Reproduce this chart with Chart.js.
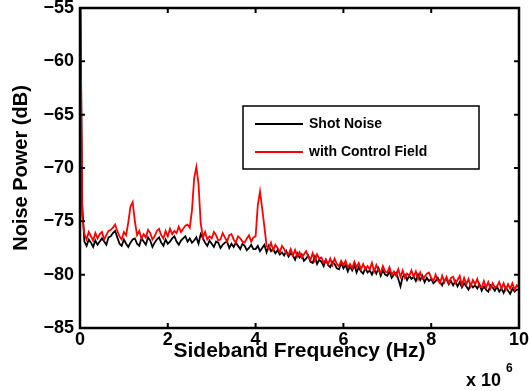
<!DOCTYPE html>
<html>
<head>
<meta charset="utf-8">
<script src="https://cdn.jsdelivr.net/npm/chart.js@4.4.0/dist/chart.umd.min.js"></script>
<style>
  html, body { margin: 0; padding: 0; background: #fff; }
  #wrap { width: 529px; height: 391px; }
</style>
</head>
<body>
<div id="wrap"><canvas id="chart"></canvas></div>
<script>
// sample grid: 0 .. 10 MHz every 50 kHz
const freq = [];
for (let i = 0; i <= 200; i++) freq.push(i * 50000);

// Shot Noise (dB)
const shotNoise = [
  -50, -73.5, -76.9, -77.3, -76.7, -77.0, -77.4, -76.8, -77.2, -76.9,
  -76.6, -76.9, -77.2, -76.5, -76.4, -76.1, -75.9, -76.5, -77.1, -77.3,
  -76.7, -77.1, -77.4, -77.0, -76.7, -76.6, -77.1, -77.3, -76.6, -76.9,
  -77.2, -76.5, -76.8, -77.4, -77.0, -76.7, -76.5, -77.0, -77.3, -76.7,
  -77.1, -76.9, -76.6, -76.4, -76.9, -77.2, -76.8, -76.6, -76.4, -76.9,
  -76.6, -77.0, -76.8, -76.5, -77.1, -76.2, -76.6, -77.0, -77.3, -76.8,
  -77.1, -77.4, -76.9, -77.0, -77.5, -77.2, -77.0, -76.9, -77.5, -77.1,
  -77.4, -77.0, -77.3, -77.6, -77.1, -77.3, -77.7, -77.5, -77.2, -77.6,
  -77.6, -77.3, -77.8, -77.5, -77.2, -77.9, -77.3, -77.8, -77.6, -78.0,
  -77.7, -78.1, -77.9, -78.2, -77.8, -78.3, -78.0, -78.2, -78.6, -78.0,
  -78.4, -78.1, -78.7, -78.5, -78.2, -78.8, -78.9, -78.3, -79.0, -78.6,
  -78.8, -79.2, -78.6, -79.1, -79.3, -78.8, -79.0, -79.4, -79.5, -78.9,
  -79.4, -79.1, -79.7, -79.2, -79.6, -79.1, -79.8, -79.3, -79.7, -79.9,
  -79.4, -79.8, -79.6, -80.0, -79.5, -79.9, -79.4, -80.1, -79.6, -80.0,
  -80.1, -79.7, -80.3, -80.0, -79.8, -80.4, -81.1, -80.2, -80.0, -80.5,
  -80.1, -80.4, -80.2, -80.6, -80.0, -80.5, -80.1, -80.7, -80.3, -80.6,
  -80.4, -80.8, -80.6, -80.3, -80.7, -81.0, -80.5, -80.4, -80.9, -80.6,
  -81.0, -80.6, -81.1, -80.7, -81.2, -80.8, -81.1, -81.4, -80.9, -81.2,
  -81.0, -81.3, -80.9, -81.5, -81.1, -81.4, -81.6, -81.0, -81.2, -81.5,
  -81.1, -81.6, -81.3, -81.7, -81.2, -81.5, -81.8, -81.3, -81.6, -81.4,
  -81.4
];

// with Control Field (dB)
const controlField = [
  -50, -74.5, -76.2, -76.7, -76.0, -76.4, -76.8, -76.1, -76.6, -76.2,
  -76.0, -76.7, -76.3, -75.9, -75.8, -75.6, -75.3, -75.9, -76.4, -76.7,
  -76.0, -76.3, -75.1, -73.6, -73.2, -75.0, -76.3, -75.9, -76.6, -76.2,
  -76.5, -75.8, -76.1, -76.7, -76.4, -75.9, -75.7, -76.3, -76.6, -75.9,
  -76.4, -75.7, -76.2, -75.9, -76.1, -75.5, -76.0, -75.7, -75.4, -75.3,
  -75.6, -74.0, -71.0, -69.9, -71.5, -75.2, -76.5, -76.0, -76.7, -76.4,
  -76.6, -76.0, -76.3, -76.8, -76.7, -76.1, -76.5, -76.9, -76.3, -76.2,
  -76.7, -77.0, -76.4, -76.6, -76.9, -77.0, -76.6, -76.3, -76.9, -76.5,
  -76.4, -73.5, -72.2, -73.8, -75.5, -77.3, -77.6, -77.0, -77.7, -77.2,
  -77.5, -77.9, -77.3, -77.6, -78.0, -78.1, -77.6, -78.2, -77.7, -78.3,
  -77.9, -78.4, -78.1, -77.8, -78.3, -78.6, -78.0, -78.7, -78.1, -78.5,
  -78.4, -78.9, -78.6, -79.0, -78.5, -79.1, -78.5, -79.0, -79.2, -78.7,
  -79.1, -78.7, -79.3, -79.0, -79.4, -78.8, -79.3, -78.9, -79.5, -79.0,
  -79.5, -79.2, -79.5, -78.9, -79.7, -79.1, -79.6, -79.8, -79.2, -79.7,
  -79.8, -79.3, -80.0, -79.7, -80.1, -79.5, -80.2, -79.6, -80.3, -79.9,
  -80.1, -79.6, -80.2, -79.7, -80.4, -79.8, -80.4, -80.2, -79.9, -79.8,
  -80.3, -80.6, -80.0, -80.5, -80.8, -80.1, -80.7, -80.2, -80.8, -80.3,
  -80.2, -80.8, -80.5, -80.1, -81.0, -80.3, -80.9, -80.4, -81.1, -80.5,
  -80.9, -80.4, -81.1, -81.2, -80.6, -81.2, -80.7, -81.3, -80.8, -81.2,
  -81.1, -80.7, -81.3, -80.8, -81.4, -80.9, -81.3, -80.8, -81.4, -81.0,
  -81.2
];

const seriesNames = ['Shot Noise', 'with Control Field'];
const xTicks = [0, 2e6, 4e6, 6e6, 8e6, 10e6];
const yTicks = [-85, -80, -75, -70, -65, -60, -55];

const FONT = "'Liberation Sans', Arial, Helvetica, sans-serif";

const toPoints = (ys) => ys.map((y, i) => ({ x: freq[i], y: y }));

// frame, inward ticks, legend box and the x 10^6 note
const matlabAxes = {
  id: 'matlabAxes',
  afterDraw(chart) {
    const { ctx, chartArea: a, scales } = chart;
    ctx.save();
    ctx.strokeStyle = '#000';
    ctx.lineWidth = 2;
    const tl = 5;
    xTicks.forEach((v) => {
      const px = scales.x.getPixelForValue(v);
      ctx.beginPath();
      ctx.moveTo(px, a.bottom); ctx.lineTo(px, a.bottom - tl);
      ctx.moveTo(px, a.top); ctx.lineTo(px, a.top + tl);
      ctx.stroke();
    });
    yTicks.forEach((v) => {
      const py = scales.y.getPixelForValue(v);
      ctx.beginPath();
      ctx.moveTo(a.left, py); ctx.lineTo(a.left + tl, py);
      ctx.moveTo(a.right, py); ctx.lineTo(a.right - tl, py);
      ctx.stroke();
    });
    ctx.lineWidth = 2.5;
    ctx.strokeRect(a.left, a.top, a.right - a.left, a.bottom - a.top);

    // legend
    const lx = a.left + 163, ly = a.top + 98, lw = 236, lh = 63;
    ctx.fillStyle = '#fff';
    ctx.fillRect(lx, ly, lw, lh);
    ctx.lineWidth = 1.5;
    ctx.strokeRect(lx, ly, lw, lh);
    const ds = chart.data.datasets;
    ds.forEach((d, i) => {
      const yy = ly + 18 + i * 28;
      ctx.strokeStyle = d.borderColor;
      ctx.lineWidth = 2;
      ctx.beginPath();
      ctx.moveTo(lx + 12, yy); ctx.lineTo(lx + 60, yy);
      ctx.stroke();
      ctx.fillStyle = '#000';
      ctx.font = 'bold 14px ' + FONT;
      ctx.textBaseline = 'middle';
      ctx.textAlign = 'left';
      ctx.fillText(d.label, lx + 66, yy);
    });

    // exponent
    ctx.fillStyle = '#000';
    ctx.textBaseline = 'alphabetic';
    ctx.textAlign = 'left';
    ctx.font = 'bold 18px ' + FONT;
    ctx.fillText('x 10', 466, 386);
    ctx.font = 'bold 12px ' + FONT;
    ctx.fillText('6', 506, 372);
    ctx.restore();
  }
};

new Chart(document.getElementById('chart'), {
  type: 'line',
  data: {
    datasets: [
      { label: seriesNames[0], data: toPoints(shotNoise), borderColor: '#000000', borderWidth: 1.8, pointRadius: 0, tension: 0, order: 1 },
      { label: seriesNames[1], data: toPoints(controlField), borderColor: '#ff0000', borderWidth: 1.8, pointRadius: 0, tension: 0, order: 0 }
    ]
  },
  options: {
    responsive: true,
    maintainAspectRatio: false,
    animation: false,
    layout: { padding: { top: 8, right: 10, left: 0, bottom: 0 } },
    plugins: { legend: { display: false }, tooltip: { enabled: false } },
    scales: {
      x: {
        type: 'linear',
        min: 0, max: 10e6,
        grid: { display: false, drawTicks: false, tickLength: 0 },
        border: { display: false },
        afterBuildTicks: (s) => { s.ticks = xTicks.map((v) => ({ value: v })); },
        ticks: {
          autoSkip: false, maxRotation: 0, padding: 2,
          color: '#000',
          font: { family: FONT, size: 18, weight: 'bold', lineHeight: 1.1 },
          callback: (v) => String(v / 1e6)
        },
        title: {
          display: true, text: 'Sideband Frequency (Hz)', color: '#000',
          font: { family: FONT, size: 21, weight: 'bold', lineHeight: 1.1 },
          padding: { top: 0, bottom: 28 }
        },
        afterFit: (s) => { s.height = 63; s.paddingLeft = 0; s.paddingRight = 0; }
      },
      y: {
        min: -85, max: -55,
        grid: { display: false, drawTicks: false, tickLength: 0 },
        border: { display: false },
        afterBuildTicks: (s) => { s.ticks = yTicks.map((v) => ({ value: v })); },
        ticks: {
          autoSkip: false, padding: 6,
          color: '#000',
          font: { family: FONT, size: 18, weight: 'bold', lineHeight: 1.1 },
          callback: (v) => '\u2212' + Math.abs(v)
        },
        title: {
          display: true, text: 'Noise Power (dB)', color: '#000',
          font: { family: FONT, size: 20, weight: 'bold', lineHeight: 1.1 },
          padding: { top: 10, bottom: 0 }
        },
        afterFit: (s) => { s.width = 80; s.paddingTop = 0; s.paddingBottom = 0; }
      }
    }
  },
  plugins: [matlabAxes]
});
</script>
</body>
</html>
